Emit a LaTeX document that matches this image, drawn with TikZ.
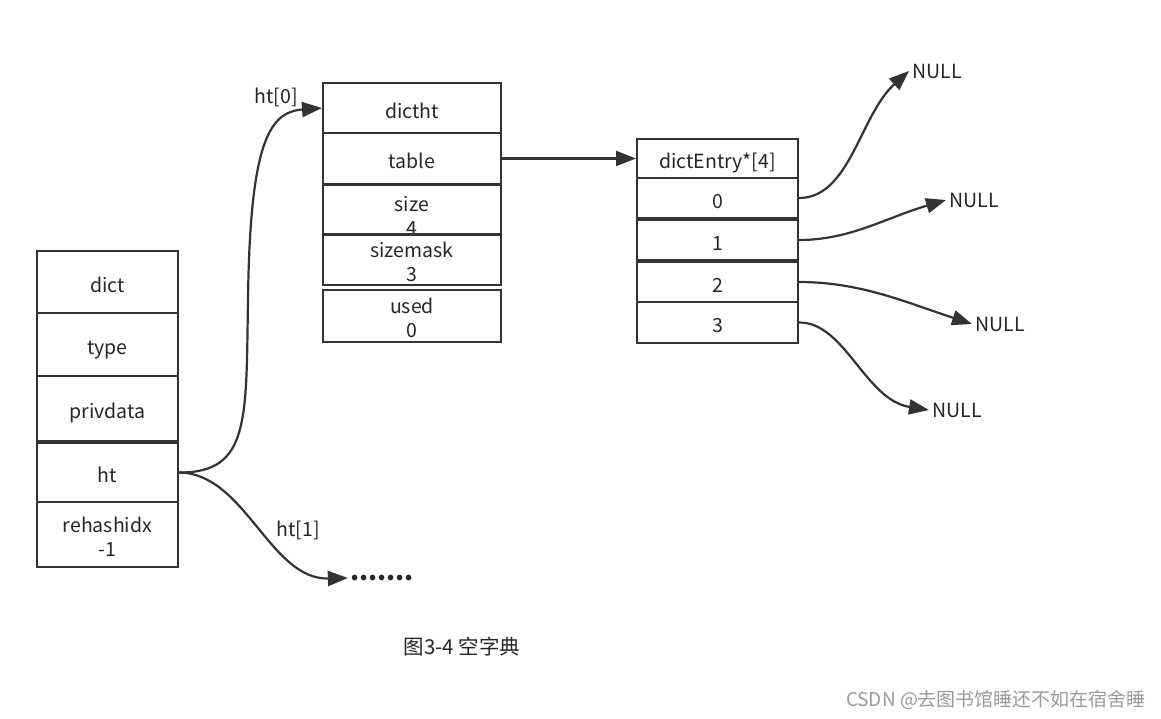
\documentclass[tikz,border=0pt]{standalone}
\usepackage{fontspec}
\setmainfont{Noto Sans CJK SC}
\usetikzlibrary{arrows.meta}

\definecolor{linegray}{HTML}{333333}
\definecolor{markgray}{HTML}{9A9A9A}

\begin{document}
\begin{tikzpicture}[x=1pt,y=-1pt,
  cell/.style={draw=linegray, line width=2pt, inner sep=0pt, align=center,
    font=\fontsize{19.5}{24}\selectfont, text=black!85},
  onerow/.style={cell, text height=20pt, text depth=0pt},
  ptr/.style={draw=linegray, line width=2.2pt, -{Triangle[length=20pt,width=15pt]}},
  lbl/.style={font=\fontsize{19.5}{22}\selectfont, text=black!85}]

\useasboundingbox (0,0) rectangle (1161,718);

% dict
\node[onerow, minimum width=141pt, minimum height=62pt] (dict) at (107.5,282) {dict};
\node[onerow, minimum width=141pt, minimum height=63pt] (type) at (107.5,344.5) {type};
\node[onerow, minimum width=141pt, minimum height=65pt] (privdata) at (107.5,408.5) {privdata};
\node[onerow, minimum width=141pt, minimum height=59pt] (ht) at (107.5,472.5) {ht};
\node[cell, minimum width=141pt, minimum height=65pt] (rehashidx) at (107.5,534.5) {\rule{0pt}{20pt}rehashidx\\-1};

% dictht
\node[onerow, minimum width=178pt, minimum height=50pt] (dictht) at (412,108) {dictht};
\node[onerow, minimum width=178pt, minimum height=51pt] (table) at (412,158.5) {table};
\node[cell, minimum width=178pt, minimum height=48pt] (size) at (412,210) {\rule{0pt}{26pt}size\\4};
\node[cell, minimum width=178pt, minimum height=51pt] (sizemask) at (412,259.5) {\rule{0pt}{20pt}sizemask\\3};
\node[cell, minimum width=178pt, minimum height=52pt] (used) at (412,316) {\rule{0pt}{19pt}used\\0};

% dictEntry
\node[onerow, minimum width=161pt, minimum height=39pt] (entries) at (717.5,158.5) {dictEntry*[4]};
\node[onerow, minimum width=161pt, minimum height=40pt] (e0) at (717.5,198) {0};
\node[onerow, minimum width=161pt, minimum height=40pt] (e1) at (717.5,240) {1};
\node[onerow, minimum width=161pt, minimum height=40pt] (e2) at (717.5,282) {2};
\node[onerow, minimum width=161pt, minimum height=41pt] (e3) at (717.5,322.5) {3};

\node[lbl, right] (null0) at (909,71) {NULL};
\node[lbl, right] (null1) at (946,200) {NULL};
\node[lbl, right] (null2) at (972,324) {NULL};
\node[lbl, right] (null3) at (929,410) {NULL};

\node[lbl] (ht0) at (276,97) {ht[0]};
\node[lbl] (ht1) at (298,530) {ht[1]};
\node[font=\bfseries\fontsize{26}{26}\selectfont, text=black!85, inner sep=2pt] (more) at (382,578) {.......};

\draw[ptr] (ht.east) .. controls (250,473) and (246,420) .. (248,300)
  .. controls (250,140) and (270,112) .. (dictht.west);
\draw[ptr] (ht.east) .. controls (245,473) and (270,580) .. (more.west);
\draw[ptr] (table.east) -- (entries.west);

\draw[ptr] (e0.east) .. controls (850,198) and (860,115) .. (null0.west);
\draw[ptr] (e1.east) .. controls (850,240) and (885,218) .. (null1.west);
\draw[ptr] (e2.east) .. controls (860,282) and (905,302) .. (null2.west);
\draw[ptr] (e3.east) .. controls (845,322) and (865,400) .. (null3.west);

\node[font=\fontsize{20.5}{22}\selectfont, text=black!85] (caption) at (462,647) {图3-4 空字典};
\node[font=\fontsize{19}{20}\selectfont, text=markgray] (mark) at (996,700) {CSDN @去图书馆睡还不如在宿舍睡};

\end{tikzpicture}
\end{document}
